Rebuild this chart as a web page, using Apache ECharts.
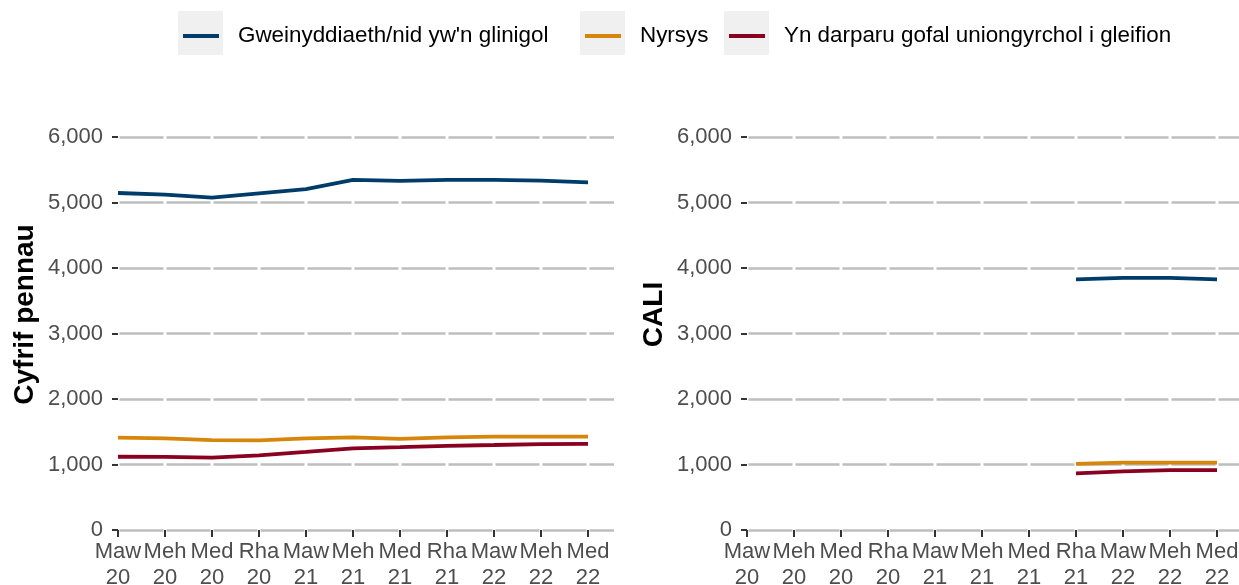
<!DOCTYPE html>
<html>
<head>
<meta charset="utf-8">
<script src="https://cdn.jsdelivr.net/npm/echarts@6/dist/echarts.min.js"></script>
<style>
  html, body { margin: 0; padding: 0; background: #fff; }
  #chart { width: 1239px; height: 585px; }
</style>
</head>
<body>
<div id="chart"></div>
<script>
// Quarter labels along the bottom of both panels
const quarters = ['Maw 20', 'Meh 20', 'Med 20', 'Rha 20', 'Maw 21', 'Meh 21',
                  'Med 21', 'Rha 21', 'Maw 22', 'Meh 22', 'Med 22'];
const seriesNames = ["Gweinyddiaeth/nid yw'n glinigol", 'Nyrsys',
                     'Yn darparu gofal uniongyrchol i gleifion'];
const yTitles = ['Cyfrif pennau', 'CALI'];

// Left panel: head count
const adminHead  = [5145, 5120, 5073, 5140, 5205, 5344, 5330, 5344, 5344, 5333, 5308];
const nurseHead  = [1410, 1400, 1372, 1368, 1400, 1415, 1390, 1415, 1425, 1425, 1425];
const directHead = [1118, 1116, 1104, 1140, 1192, 1247, 1265, 1285, 1298, 1312, 1315];

// Right panel: FTE (only from Rha 21)
const adminFte  = [null, null, null, null, null, null, null, 3827, 3848, 3848, 3827];
const nurseFte  = [null, null, null, null, null, null, null, 1010, 1028, 1028, 1028];
const directFte = [null, null, null, null, null, null, null, 866, 895, 915, 915];

const COLORS = ['#003c69', '#d6870b', '#8a0021'];
const FONT = "'Liberation Sans', Arial, sans-serif";
const TICK_IDX = quarters.map((_, i) => i);
const STEP = 47; // px between quarters, so the grid gaps line up with ticks

function pairs(arr) { return arr.map((v, i) => [i, v]); }

function xAxisFor(gridIndex, max) {
  return {
    type: 'value', gridIndex, min: 0, max, interval: 1,
    axisLine: { show: false },
    axisTick: { customValues: TICK_IDX, length: 7, lineStyle: { color: '#333', width: 2 } },
    axisLabel: {
      customValues: TICK_IDX,
      formatter: v => (quarters[v] || '').replace(' ', '\n'),
      color: '#4d4d4d', fontSize: 22, lineHeight: 26, margin: 9, fontFamily: FONT,
    },
    splitLine: { show: false },
  };
}

function yAxisFor(gridIndex) {
  return {
    type: 'value', gridIndex, min: 0, max: 6000, interval: 1000,
    name: yTitles[gridIndex], nameLocation: 'middle', nameGap: 79,
    nameTextStyle: { fontSize: 28, fontWeight: 'bold', color: '#000', fontFamily: FONT, padding: [0, 0, 0, 38] },
    axisLine: { show: false },
    axisTick: { show: true, length: 6, lineStyle: { color: '#333', width: 2 } },
    axisLabel: {
      formatter: v => v.toLocaleString('en-GB'),
      color: '#4d4d4d', fontSize: 22, margin: 15, fontFamily: FONT,
    },
    // long dashes with a small break at each quarter (white vertical grid in the original)
    splitLine: {
      show: true,
      lineStyle: { color: '#bebebe', width: 2.5, type: [STEP - 3, 3], dashOffset: STEP - 1.5 },
    },
  };
}

function lineSeries(name, data, colorIdx, gridIdx) {
  return {
    type: 'line', name, data: pairs(data),
    xAxisIndex: gridIdx, yAxisIndex: gridIdx,
    showSymbol: false, symbol: 'none', connectNulls: false,
    lineStyle: { width: 3.8, color: COLORS[colorIdx] },
    itemStyle: { color: COLORS[colorIdx] },
    emphasis: { disabled: true }, z: 3,
  };
}

function legendFor(i, left) {
  return {
    data: [seriesNames[i]], left, top: 24, icon: 'rect',
    itemWidth: 36, itemHeight: 4, padding: 0,
    textStyle: { fontSize: 22.4, color: '#000', fontFamily: FONT, lineHeight: 24, padding: [0, 0, 0, 14] },
  };
}

const chart = echarts.init(document.getElementById('chart'));
chart.setOption({
  animation: false,
  textStyle: { fontFamily: FONT },
  // grey squares behind legend keys
  graphic: [178, 580, 724].map(x => ({
    type: 'rect', left: x, top: 11, shape: { width: 45, height: 44 },
    style: { fill: '#f0f0f0' }, z: -1, silent: true,
  })),
  legend: [legendFor(0, 183), legendFor(1, 585), legendFor(2, 729)],
  grid: [
    { left: 118, right: 1239 - 614, top: 137, bottom: 55, outerBoundsMode: 'none' },
    { left: 747, right: 0, top: 137, bottom: 55, outerBoundsMode: 'none' },
  ],
  xAxis: [xAxisFor(0, 496 / STEP), xAxisFor(1, 492 / STEP)],
  yAxis: [yAxisFor(0), yAxisFor(1)],
  series: [
    lineSeries(seriesNames[0], adminHead, 0, 0),
    lineSeries(seriesNames[1], nurseHead, 1, 0),
    lineSeries(seriesNames[2], directHead, 2, 0),
    lineSeries(seriesNames[0], adminFte, 0, 1),
    lineSeries(seriesNames[1], nurseFte, 1, 1),
    lineSeries(seriesNames[2], directFte, 2, 1),
  ],
});
</script>
</body>
</html>
